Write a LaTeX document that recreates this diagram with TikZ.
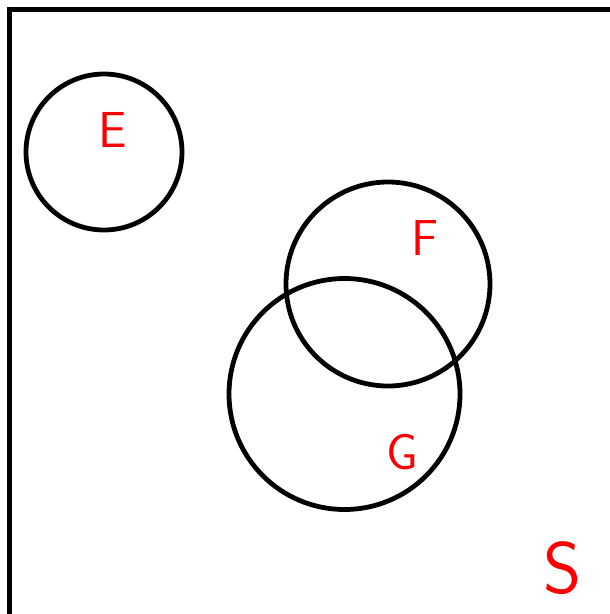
\documentclass[tikz,border=0pt]{standalone}
\usepackage{tikz}

\begin{document}
\begin{tikzpicture}[x=0.025cm, y=-0.025cm, set/.style={circle, line width=3.4pt, draw=black, inner sep=0pt}, lbl/.style={text=red, font=\sffamily\fontsize{36}{36}\selectfont}]
			\useasboundingbox (0,0) rectangle (610,614);
			\clip (0,0) rectangle (610,614);
			\draw[line width=3.4pt] (9.5,640) -- (9.5,9.5) -- (640,9.5);
			\node[set, minimum size=156*0.025cm] (e) at (104,152) {};
			\node[set, minimum size=204*0.025cm] (f) at (388,284) {};
			\node[set, minimum size=231*0.025cm] (g) at (344.5,394) {};
			\node[lbl] (le) at (113,130) {E};
			\node[lbl] (lf) at (425,238) {F};
			\node[lbl] (lg) at (402,452) {G};
			\node[lbl, font=\sffamily\fontsize{52}{52}\selectfont] (ls) at (563,568) {S};
			\end{tikzpicture}
\end{document}
